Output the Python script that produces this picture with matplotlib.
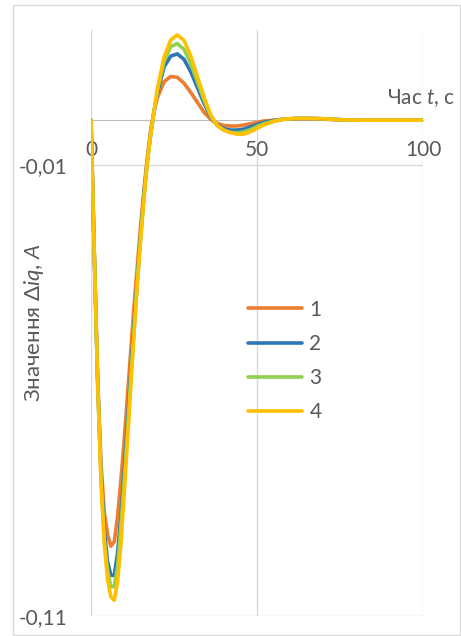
import matplotlib
matplotlib.use("Agg")
import matplotlib.pyplot as plt
from matplotlib.patches import Rectangle
from matplotlib.ticker import FuncFormatter

# ---- data ----
t = [0, 1, 2, 3, 4, 5, 6, 7, 8, 9, 10, 11, 12, 13, 14, 15, 16, 17, 18, 19, 20,
     22, 24, 26, 28, 30, 32, 34, 36, 38, 40, 42, 44, 46, 48, 50, 52,
     55, 58, 62, 66, 70, 75, 80, 90, 100]

s1 = [0, -0.030, -0.057, -0.076, -0.087, -0.092, -0.0945, -0.0935, -0.088, -0.080, -0.071,
      -0.061, -0.051, -0.041, -0.032, -0.023, -0.015, -0.008, -0.002, 0.002, 0.005,
      0.0085, 0.0097, 0.0095, 0.0082, 0.0062, 0.0040, 0.0018, 0.0002, -0.0007, -0.0012,
      -0.0013, -0.0013, -0.0011, -0.0008, -0.0005, -0.0002,
      0.0, 0.0002, 0.0003, 0.0003, 0.0002, 0.0001, 0.0, 0.0, 0.0]

s2 = [0, -0.030, -0.058, -0.078, -0.091, -0.098, -0.1010, -0.1010, -0.096, -0.088, -0.078,
      -0.067, -0.056, -0.045, -0.035, -0.025, -0.016, -0.009, -0.003, 0.002, 0.006,
      0.0118, 0.0142, 0.0147, 0.0135, 0.0108, 0.0073, 0.0038, 0.0008, -0.0011, -0.0019,
      -0.0022, -0.0022, -0.0020, -0.0015, -0.0010, -0.0005,
      -0.0001, 0.0002, 0.0004, 0.0004, 0.0003, 0.0001, 0.0, 0.0, 0.0]

s3 = [0, -0.030, -0.058, -0.079, -0.093, -0.100, -0.1035, -0.1035, -0.099, -0.090, -0.080,
      -0.069, -0.057, -0.046, -0.035, -0.0255, -0.0165, -0.009, -0.003, 0.002, 0.0065,
      0.0130, 0.0163, 0.0170, 0.0157, 0.0126, 0.0086, 0.0045, 0.0010, -0.0012, -0.0022,
      -0.0027, -0.0028, -0.0026, -0.0021, -0.0014, -0.0008,
      -0.0002, 0.0002, 0.0004, 0.0004, 0.0003, 0.0001, 0.0, 0.0, 0.0]

s4 = [0, -0.030, -0.058, -0.080, -0.094, -0.102, -0.1058, -0.1065, -0.1025, -0.094, -0.083,
      -0.071, -0.059, -0.047, -0.036, -0.026, -0.017, -0.009, -0.003, 0.002, 0.007,
      0.0140, 0.0178, 0.0189, 0.0177, 0.0143, 0.0098, 0.0052, 0.0013, -0.0012, -0.0022,
      -0.0028, -0.0031, -0.0031, -0.0026, -0.0018, -0.0011,
      -0.0003, 0.0002, 0.0004, 0.0004, 0.0003, 0.0001, 0.0, 0.0, 0.0]

series = [s1, s2, s3, s4]
labels = ["1", "2", "3", "4"]
colors = ["#ED7D31", "#2E75B6", "#92D050", "#FFC000"]
xticks = [0, 50, 100]
yticks = [-0.11, -0.01]

# ---- style ----
plt.rcParams['font.family'] = ['Lato', 'DejaVu Sans']
plt.rcParams['mathtext.fontset'] = 'custom'
plt.rcParams['mathtext.it'] = 'Lato:italic'
plt.rcParams['mathtext.rm'] = 'Lato'
TXT = "#595959"
FS = 15

W, H = 461, 636
fig = plt.figure(figsize=(W / 100, H / 100), dpi=100)
fig.patches.append(Rectangle((13 / W, 1 - 635 / H), (460 - 13) / W, (635 - 5) / H,
                             transform=fig.transFigure, fill=False,
                             edgecolor="#D9D9D9", lw=1))

ax = fig.add_axes([91 / W, 1 - 616 / H, 332 / W, 586 / H])
for s, lab, c in zip(series, labels, colors):
    ax.plot(t, s, color=c, lw=2.6, label=lab, solid_capstyle='round',
            solid_joinstyle='round')

ax.set_xlim(0, 100)
ax.set_ylim(-0.11, 0.02)
ax.set_xticks(xticks)
ax.set_yticks(yticks)
ax.yaxis.set_major_formatter(FuncFormatter(lambda v, p: f"{v:.2f}".replace(".", ",")))
ax.grid(True, color="#D9D9D9", lw=1)
ax.set_axisbelow(True)
for side in ["top", "right", "left"]:
    ax.spines[side].set_visible(False)
ax.spines["bottom"].set_position(("data", 0))
ax.spines["bottom"].set_color("#BFBFBF")
ax.spines["bottom"].set_zorder(0.5)
ax.tick_params(axis="x", length=0, pad=14, labelsize=FS, labelcolor=TXT)
ax.tick_params(axis="y", length=0, pad=17, labelsize=FS, labelcolor=TXT)

ax.set_ylabel("Значення Δ$\\it{iq}$, $\\it{A}$", fontsize=FS + 1, color=TXT, labelpad=4)
ax.yaxis.set_label_coords(-(91 - 46) / 332, 0.5)
fig.text(455 / W, 1 - 98 / H, "Час $t$, с", fontsize=FS, color=TXT,
         ha="right", va="center")

ax.legend(loc="center left", bbox_to_anchor=(248 / W, 1 - 361 / H),
          bbox_transform=fig.transFigure, frameon=False, fontsize=FS,
          labelcolor=TXT, handlelength=2.6, handletextpad=0.35,
          labelspacing=0.68, borderpad=0, borderaxespad=0)

fig.savefig("out.png", dpi=100)
